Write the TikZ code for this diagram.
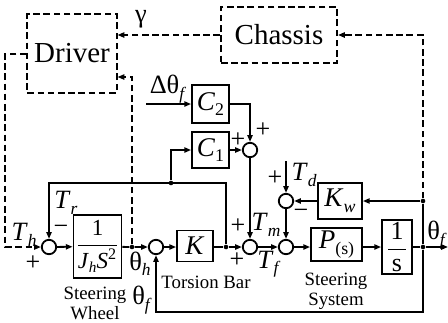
\documentclass[tikz,border=0pt]{standalone}
\usepackage{amsmath}
\usepackage{fontspec}
\setmainfont{Liberation Serif}
\usepackage{tikz}
\usetikzlibrary{arrows.meta,positioning,calc}
\newcommand{\subx}[2]{#1\raisebox{-0.45ex}{\scalebox{0.66}{#2}}}

\begin{document}
\begin{tikzpicture}[
    x=0.5pt, y=-0.5pt,
    >={Triangle[length=3.4pt,width=2.6pt]},
    blk/.style={draw, line width=0.9pt, inner sep=1pt,
                font=\fontsize{13.5}{15}\selectfont},
    dbox/.style={draw, line width=1pt, dash pattern=on 3.3pt off 1.8pt,
                 font=\fontsize{14.5}{16}\selectfont},
    sumj/.style={draw, circle, line width=0.9pt, minimum size=7.2pt, inner sep=0pt},
    jdot/.style={circle, fill, inner sep=0pt, minimum size=2.3pt},
    lbl/.style={font=\fontsize{13.2}{14}\selectfont, inner sep=0pt},
    sgn/.style={font=\fontsize{13}{13}\selectfont, inner sep=0pt},
    capt/.style={font=\fontsize{9.4}{10}\selectfont, align=center, inner sep=0pt},
    wire/.style={line width=0.9pt},
    sig/.style={->, line width=0.9pt},
    dsig/.style={->, line width=1pt, dash pattern=on 3.3pt off 1.8pt},
  ]
  \useasboundingbox (0,0) rectangle (448,322);

  % Driver and vehicle (dashed)
  \node[dbox, minimum width=42pt, minimum height=39.5pt] (driver) at (72,53.5) {Driver};
  \node[dbox, minimum width=58pt, minimum height=28pt] (chassis) at (279,35) {Chassis};

  % main path
  \node[sumj] (sumh) at (49,247) {};
  \node[blk, minimum width=23.5pt, minimum height=31.5pt,
        font=\fontsize{11.5}{13}\selectfont] (wheel) at (97.5,246.5)
    {\(\dfrac{\text{1}}{\text{\subx{\textit{J}}{\textit{h}}\textit{S}\textsuperscript{2}}}\)};
  \node[jdot] (thh) at (132,247) {};
  \node[sumj] (sumk) at (156,247) {};
  \node[blk, minimum width=18pt, minimum height=15.5pt] (tbar) at (195,246) {\textit{K}};
  \node[jdot] (tk) at (226,247) {};
  \node[sumj] (summ) at (250,247) {};
  \node[sumj] (sumf) at (286,247) {};
  \node[blk, minimum width=25.5pt, minimum height=16.5pt] (plant) at (336.5,244.5)
    {\subx{\textit{P}}{(s)}};
  \node[blk, minimum width=15pt, minimum height=25pt,
        font=\fontsize{13}{14}\selectfont] (integ) at (397,247)
    {\(\dfrac{\text{\makebox[9pt]{1}}}{\text{s}}\)};
  \node[jdot] (thf) at (423,247) {};
  \coordinate (out) at (448,247);

  % road reaction loop
  \node[sumj] (sumd) at (286,201) {};
  \node[blk, minimum width=22pt, minimum height=18pt] (kw) at (340,201)
    {\subx{\textit{K}}{\textit{w}}};
  \node[jdot] (tw) at (423,201) {};
  \coordinate (td) at (286,161);

  % assist controllers
  \node[sumj] (sumc) at (250,150) {};
  \node[blk, minimum width=18.5pt, minimum height=18pt] (c1) at (210.5,150) {\subx{\textit{C}}{1}};
  \node[blk, minimum width=18.5pt, minimum height=19pt] (c2) at (210.5,104) {\subx{\textit{C}}{2}};
  \coordinate (dth) at (146,104);
  \node[jdot] (tc) at (171,183) {};
  \coordinate (dv) at (132,77);

  % signals
  \draw[sig] (sumh) -- (wheel);
  \draw[sig] (wheel) -- (thh) -- (sumk);
  \draw[sig] (sumk) -- (sumk -| tbar.west);
  \draw[wire] (tbar.east |- tk) -- (tk);
  \draw[sig] (tk) -- (summ);
  \draw[sig] (summ) -- (sumf);
  \draw[sig] (sumf) -- (sumf -| plant.west);
  \draw[sig] (plant.east |- sumf) -- (integ);
  \draw[wire] (integ) -- (thf);
  \draw[sig] (thf) -- (out);
  \draw[sig] (thf) -- ++(0,65) -| (sumk);
  \draw[wire] (thf) -- (tw);
  \draw[sig] (tw) -- (kw);
  \draw[sig] (kw) -- (sumd);
  \draw[sig] (sumd) -- (sumf);
  \draw[sig] (td) -- (sumd);
  \draw[sig] (tk) -- (tk |- tc) -| (sumh);
  \draw[sig] (tc) |- (c1);
  \draw[sig] (c1) -- (sumc);
  \draw[sig] (c2) -| (sumc);
  \draw[sig] (dth) -- (c2);
  \draw[sig] (sumc) -- (summ);

  % driver and chassis links
  \draw[dsig] (driver.west) -- ++(-21,0) |- (sumh);
  \draw[dsig] (thh) -- (dv) -- (dv -| driver.east);
  \draw[dsig] (tw) -- (tw |- chassis) -- (chassis);
  \draw[dsig] (chassis) -- (chassis -| driver.east);

  % labels
  \node[lbl] (lgam) at (141,19) {γ};
  \node[lbl] (ldth) at (168,89) {Δ\subx{θ}{\textit{f}}};
  \node[sgn] (pc2) at (263,130) {+};
  \node[sgn] (pc1) at (238,140) {+};
  \node[lbl] (ltr) at (66,203) {\subx{\textit{T}}{\textit{r}}};
  \node[sgn] (mtr) at (61,230) {−};
  \node[lbl] (lth) at (24,235) {\subx{\textit{T}}{\textit{h}}};
  \node[sgn] (pth) at (33,263) {+};
  \node[lbl] (lthh) at (140,264) {\subx{θ}{\textit{h}}};
  \node[lbl] (lfb) at (142,300) {\subx{θ}{\textit{f}}};
  \node[capt] (cwheel) at (95,303) {Steering\\Wheel};
  \node[capt] (cbar) at (206,282) {Torsion Bar};
  \node[sgn] (ptm) at (238,226) {+};
  \node[lbl] (ltm) at (266,225) {\subx{\textit{T}}{\textit{m}}};
  \node[sgn] (ptk) at (237,260) {+};
  \node[lbl] (ltf) at (269,264) {\subx{\textit{T}}{\textit{f}}};
  \node[sgn] (ptd) at (275,178) {+};
  \node[lbl] (ltd) at (304,175) {\subx{\textit{T}}{\textit{d}}};
  \node[sgn] (mkw) at (301,214) {−};
  \node[lbl] (lout) at (437,235) {\subx{θ}{\textit{f}}};
  \node[capt] (csys) at (336,291) {Steering\\System};
\end{tikzpicture}
\end{document}
